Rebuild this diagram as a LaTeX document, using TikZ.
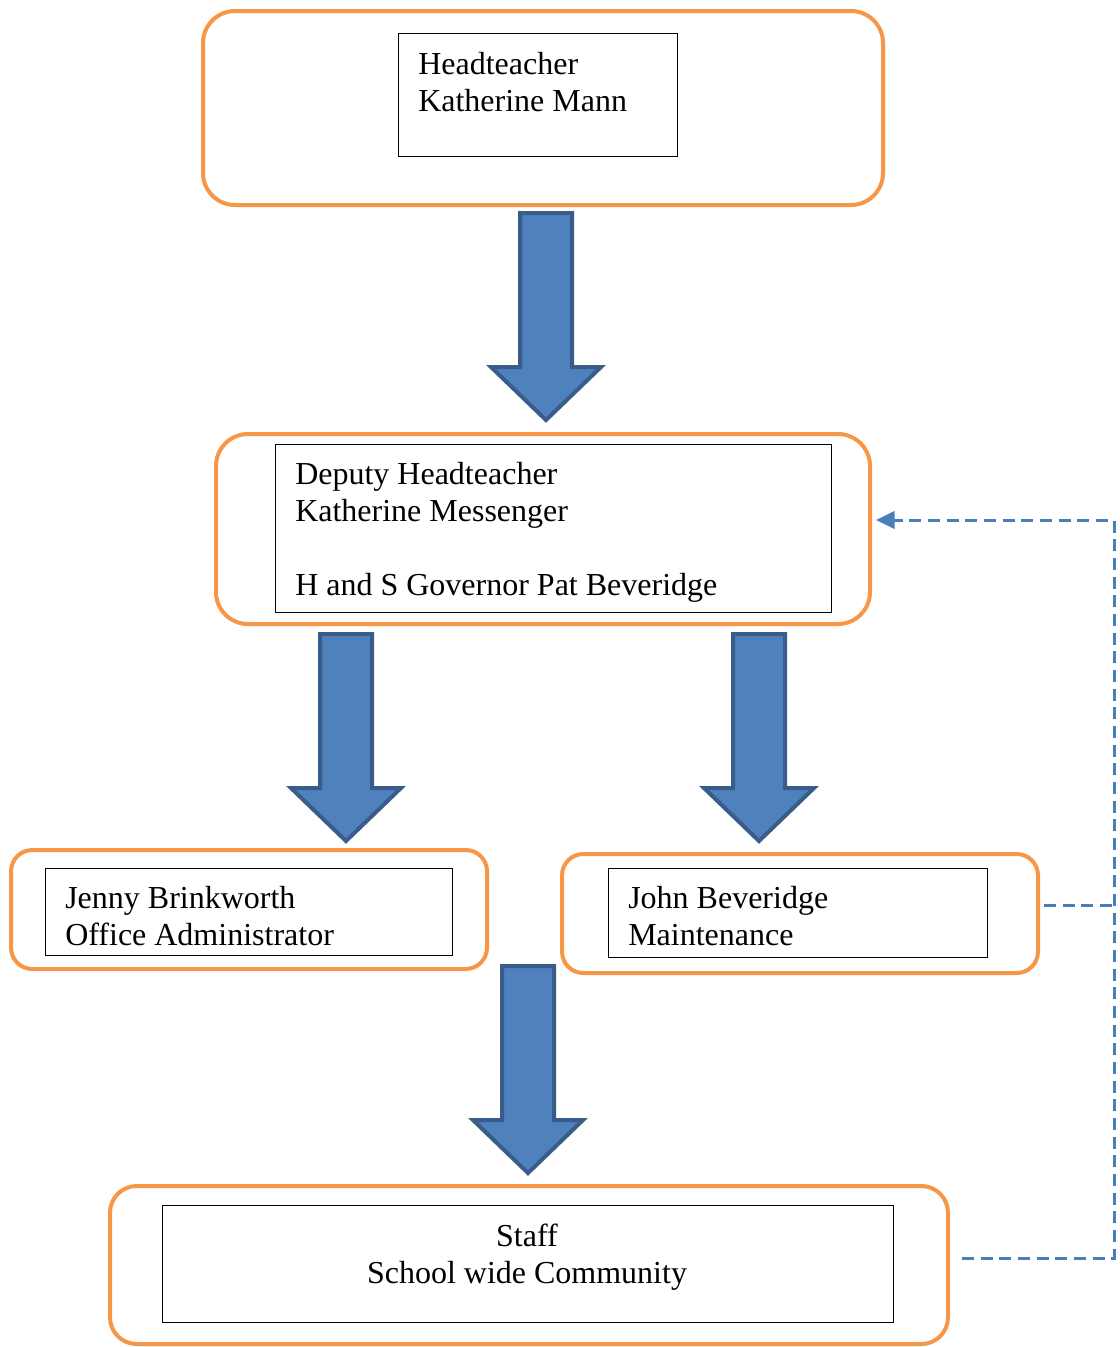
\documentclass[tikz,border=0pt]{standalone}
\usepackage{fontspec}
\setmainfont{Liberation Serif}
\usetikzlibrary{fit,arrows.meta}
\definecolor{orng}{HTML}{F79646}
\definecolor{afill}{HTML}{4F81BD}
\definecolor{aline}{HTML}{385D8A}
\definecolor{dashblue}{HTML}{4A7EBB}
\tikzset{
  obox/.style={draw=orng, line width=3pt, inner sep=0pt},
  ibox/.style={draw=black, line width=0.75pt, inner sep=0pt},
  txt/.style={font=\fontsize{24}{27.75}\selectfont, inner sep=0pt, align=left},
  ctxt/.style={font=\fontsize{24}{27.75}\selectfont, inner sep=0pt, align=center},
  blockarrow/.style={fill=afill, draw=aline, line width=3pt, line join=miter},
  dashconn/.style={draw=dashblue, line width=2.25pt, dash pattern=on 9pt off 5pt},
}
\newcommand{\blockarr}[3]{%
  \draw[blockarrow] (#1-26,#2) -- (#1+26,#2) -- (#1+26,#2+154) -- (#1+55,#2+154) -- (#1,#3) -- (#1-55,#2+154) -- (#1-26,#2+154) -- cycle;}
\begin{document}
\begin{tikzpicture}[x=0.75pt,y=-0.75pt]
\useasboundingbox (0,0) rectangle (1120,1347);
% orange boxes
\node[obox, fit={(203,11) (883,205)}, rounded corners=24pt] (b1) {};
\node[obox, fit={(216,434) (870,624)}, rounded corners=24pt] (b2) {};
\node[obox, fit={(11,850) (487,969)}, rounded corners=16pt] (b3) {};
\node[obox, fit={(562,854) (1038,973)}, rounded corners=16pt] (b4) {};
\node[obox, fit={(110,1186) (948,1344)}, rounded corners=20pt] (b5) {};
% inner boxes
\node[ibox, fit={(398,33) (677,156)}] (i1) {};
\node[ibox, fit={(275,444) (831,612)}] (i2) {};
\node[ibox, fit={(45,868) (452,955)}] (i3) {};
\node[ibox, fit={(608,868) (987,957)}] (i4) {};
\node[ibox, fit={(162,1205) (893,1322)}] (i5) {};
% texts (base = baseline of last line)
\node[txt, anchor=base west] (t1) at (418,111) {Headteacher\\Katherine Mann};
\node[txt, anchor=base west] (t2) at (295,595) {Deputy Headteacher\\Katherine Messenger\\[27.75pt]H and S Governor Pat Beveridge};
\node[txt, anchor=base west] (t3) at (65,945) {Jenny Brinkworth\\Office Administrator};
\node[txt, anchor=base west] (t4) at (628,945) {John Beveridge\\Maintenance};
\node[ctxt, anchor=base] (t5) at (527,1283) {Staff\\School wide Community};
% block arrows
\blockarr{546}{213}{420}
\blockarr{346}{634}{841}
\blockarr{759}{634}{841}
\blockarr{528}{966}{1173}
% dashed connectors
\coordinate (d1) at (962,1258);
\coordinate (d2) at (1114,1258);
\coordinate (d3) at (1114,520);
\coordinate (d4) at (876,520);
\coordinate (d5) at (1044,905);
\coordinate (d6) at (1114,905);
\draw[dashconn, -{Triangle[length=14pt,width=13pt]}] (d1) -- (d2) -- (d3) -- (d4);
\draw[dashconn] (d5) -- (d6);
\end{tikzpicture}
\end{document}
